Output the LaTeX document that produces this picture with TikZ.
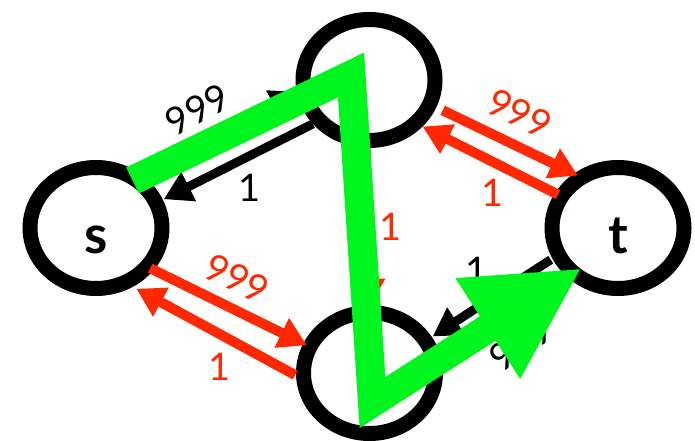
\documentclass[tikz,border=0pt]{standalone}
\usepackage{fontspec}
\setmainfont{Lato}
\usetikzlibrary{arrows.meta,calc,shapes.geometric}
\definecolor{flowred}{RGB}{255,40,0}
\definecolor{pathgreen}{RGB}{0,244,30}
\tikzset{
  vertex/.style={draw, ellipse, line width=15pt, minimum width=132pt, minimum height=121pt, inner sep=0pt, font=\fontsize{53}{53}\selectfont\bfseries, text height=50pt, text depth=0pt},
  lbl/.style={font=\fontsize{38}{38}\selectfont, inner sep=1pt},
  blackarr/.style={-{Triangle[length=28pt,width=31pt]}, line width=9pt, black},
  redarr/.style={-{Triangle[length=28pt,width=31pt]}, line width=10pt, flowred},
  route/.style={-{Triangle[length=112pt,width=111pt]}, line width=29pt, pathgreen, line join=miter}
}
\begin{document}
\begin{tikzpicture}[x=1pt, y=-1pt]
  \useasboundingbox (0,0) rectangle (695,441);
  \node[vertex] (s) at (96,228) {s};
  \node[vertex] (a) at (369,80) {};
  \node[vertex] (b) at (369.5,373) {};
  \node[vertex] (t) at (618,228) {t};

  \draw[blackarr, shorten <=4.5pt, shorten >=-2pt] (s.49) -- node[lbl, pos=.455, sloped, above=12.5pt] {999} (a.190);
  \draw[blackarr, shorten >=1pt] (a.218) -- node[lbl, pos=.42, below=12.7pt] {1} (s.23);
  \draw[redarr, shorten <=7pt, shorten >=-4.5pt] (a.-22) -- node[lbl, pos=.51, sloped, above=11pt] {999} (t.129);
  \draw[redarr, shorten <=-3.5pt] (t.151) -- node[lbl, pos=.47, below=11.5pt] {1} (a.-41);
  \draw[redarr, shorten <=-4pt, shorten >=-4pt] (s.-36) -- node[lbl, pos=.47, sloped, above=9.5pt] {999} (b.156);
  \draw[redarr, shorten <=1pt, shorten >=4pt] (b.182) -- node[lbl, pos=.47, below=13.5pt] {1} (s.-58);
  \draw[redarr, shorten >=-2pt] (a.-93) -- node[lbl, right=5.7pt] {1} (b.90);
  \draw[blackarr, shorten <=2pt, shorten >=1pt] (t.205) -- node[lbl, pos=.63, above=17.5pt] {1} (b.30);
  \draw[blackarr] (b.9) -- node[lbl, pos=.5, sloped, below=11.4pt] {999} (t.222);

  \draw[route] ($(s)+(36.5,-47.5)$) -- ($(a)+(-18,-5)$) -- ($(b)+(3,29.5)$) -- ($(t)+(-36,40)$);
\end{tikzpicture}
\end{document}
